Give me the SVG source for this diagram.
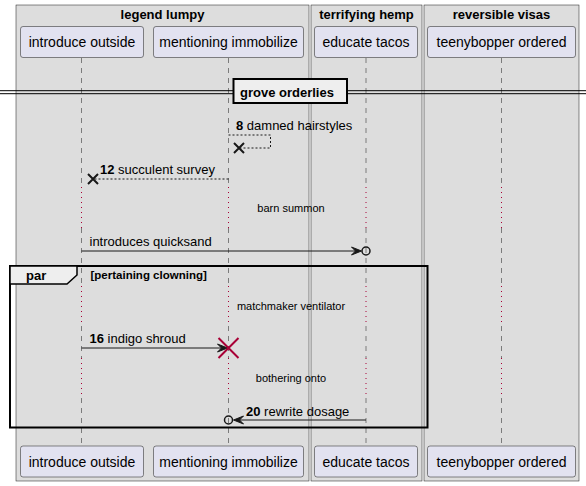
<svg xmlns="http://www.w3.org/2000/svg" width="586" height="486" viewBox="0 0 586 486">
<style>
text{font-family:"Liberation Sans",Arial,sans-serif;fill:#000}
.gbox{fill:#DDDDDD;stroke:#181818;stroke-width:0.5}
.gt{font-size:13px;font-weight:bold;text-anchor:middle}
.pbox{fill:#E2E2F0;stroke:#181818;stroke-width:0.5}
.pt{font-size:14px;text-anchor:middle}
.life{stroke:#181818;stroke-width:0.5;stroke-dasharray:5,5;fill:none}
.delay{stroke:#A80036;stroke-width:1;stroke-dasharray:1,4;fill:none}
.msg{font-size:13px}
.num{font-weight:bold}
.dl{font-size:11px;text-anchor:middle}
.solid{stroke:#181818;stroke-width:1;fill:none}
.dash{stroke:#181818;stroke-width:1;stroke-dasharray:2,2;fill:none}
.head{fill:#181818;stroke:#181818;stroke-width:1}
.x{stroke:#181818;stroke-width:2}
.circ{fill:none;stroke:#181818;stroke-width:1.5}
</style>
<rect width="586" height="486" fill="#FFFFFF"/>
<g id="box-legend-lumpy">
<rect class="gbox" x="16" y="5" width="293" height="476"/>
<text class="gt" x="162.5" y="19">legend lumpy</text>
</g>
<g id="box-terrifying-hemp">
<rect class="gbox" x="311" y="5" width="111" height="476"/>
<text class="gt" x="366.5" y="19">terrifying hemp</text>
</g>
<g id="box-reversible-visas">
<rect class="gbox" x="424" y="5" width="155" height="476"/>
<text class="gt" x="501.5" y="19">reversible visas</text>
</g>
<g id="lifelines">
<g id="ll1">
<path class="life" d="M81.5,58V187M81.5,228V286M81.5,326V358M81.5,398V446"/>
<path class="delay" d="M81.5,187V228M81.5,286V326M81.5,358V398"/>
</g>
<g id="ll2">
<path class="life" d="M228.5,58V187M228.5,228V286M228.5,326V358M228.5,398V446"/>
<path class="delay" d="M228.5,187V228M228.5,286V326M228.5,358V398"/>
</g>
<g id="ll3">
<path class="life" d="M366,58V187M366,228V286M366,326V358M366,398V446"/>
<path class="delay" d="M366,187V228M366,286V326M366,358V398"/>
</g>
<g id="ll4">
<path class="life" d="M501.5,58V187M501.5,228V286M501.5,326V358M501.5,398V446"/>
<path class="delay" d="M501.5,187V228M501.5,286V326M501.5,358V398"/>
</g>
</g>
<g id="p-introduce-outside">
<rect class="pbox" x="20.5" y="26.5" width="123" height="31" rx="2.5"/>
<text class="pt" x="82" y="47">introduce outside</text>
<rect class="pbox" x="20.5" y="446" width="123" height="31" rx="2.5"/>
<text class="pt" x="82" y="466.5">introduce outside</text>
</g>
<g id="p-mentioning-immobilize">
<rect class="pbox" x="153.5" y="26.5" width="150" height="31" rx="2.5"/>
<text class="pt" x="228.5" y="47">mentioning immobilize</text>
<rect class="pbox" x="153.5" y="446" width="150" height="31" rx="2.5"/>
<text class="pt" x="228.5" y="466.5">mentioning immobilize</text>
</g>
<g id="p-educate-tacos">
<rect class="pbox" x="314.5" y="26.5" width="103" height="31" rx="2.5"/>
<text class="pt" x="366" y="47">educate tacos</text>
<rect class="pbox" x="314.5" y="446" width="103" height="31" rx="2.5"/>
<text class="pt" x="366" y="466.5">educate tacos</text>
</g>
<g id="p-teenybopper-ordered">
<rect class="pbox" x="427.5" y="26.5" width="148" height="31" rx="2.5"/>
<text class="pt" x="501.5" y="47">teenybopper ordered</text>
<rect class="pbox" x="427.5" y="446" width="148" height="31" rx="2.5"/>
<text class="pt" x="501.5" y="466.5">teenybopper ordered</text>
</g>
<g id="divider-grove-orderlies">
<line x1="0" y1="90.7" x2="586" y2="90.7" stroke="#000" stroke-width="1"/>
<line x1="0" y1="93.7" x2="586" y2="93.7" stroke="#000" stroke-width="1"/>
<rect x="233.5" y="79" width="113.5" height="24" fill="#EEEEEE" stroke="#000" stroke-width="2"/>
<text x="240" y="96.5" style="font-size:13px;font-weight:bold">grove orderlies</text>
</g>
<g id="connectors">
<g id="m8">
<path class="dash" d="M228.5,135H270.5V148H240"/>
<path class="x" d="M234,143L244,153M234,153L244,143"/>
<text class="msg" x="236" y="130"><tspan class="num">8</tspan> damned hairstyles</text>
</g>
<g id="m12">
<path class="dash" d="M228.5,179H94"/>
<path class="x" d="M88,174L98,184M88,184L98,174"/>
<text class="msg" x="100" y="173.5"><tspan class="num">12</tspan> succulent survey</text>
</g>
<g id="m-quicksand">
<path class="solid" d="M81.5,251H358"/>
<polygon class="head" points="361.5,251 351.5,247 355.5,251 351.5,255"/>
<circle class="circ" cx="366" cy="251" r="4"/>
<text class="msg" x="89.5" y="246">introduces quicksand</text>
</g>
<g id="m16">
<path class="solid" d="M81.5,348H224"/>
<polygon class="head" points="227.5,348 217.5,344 221.5,348 217.5,352"/>
<path d="M218.5,338L238.5,358M218.5,358L238.5,338" stroke="#A80036" stroke-width="2"/>
<text class="msg" x="89.5" y="343"><tspan class="num">16</tspan> indigo shroud</text>
</g>
<g id="m20">
<path class="solid" d="M366,420H237"/>
<polygon class="head" points="233.5,420 243.5,416 239.5,420 243.5,424"/>
<circle class="circ" cx="228.5" cy="420" r="4"/>
<text class="msg" x="246" y="415.5"><tspan class="num">20</tspan> rewrite dosage</text>
</g>
</g>
<g id="delays">
<text class="dl" x="291" y="212">barn summon</text>
<text class="dl" x="291" y="310">matchmaker ventilator</text>
<text class="dl" x="291" y="382">bothering onto</text>
</g>
<g id="par-frame">
<rect x="10" y="266" width="417.5" height="161.5" fill="none" stroke="#000" stroke-width="2"/>
<path d="M10,266H77V275L67,284H10Z" fill="#EEEEEE" stroke="#000" stroke-width="1.5"/>
<text x="26" y="280" style="font-size:13px;font-weight:bold">par</text>
<text x="90.5" y="279" style="font-size:11.5px;font-weight:bold">[pertaining clowning]</text>
</g>
</svg>
